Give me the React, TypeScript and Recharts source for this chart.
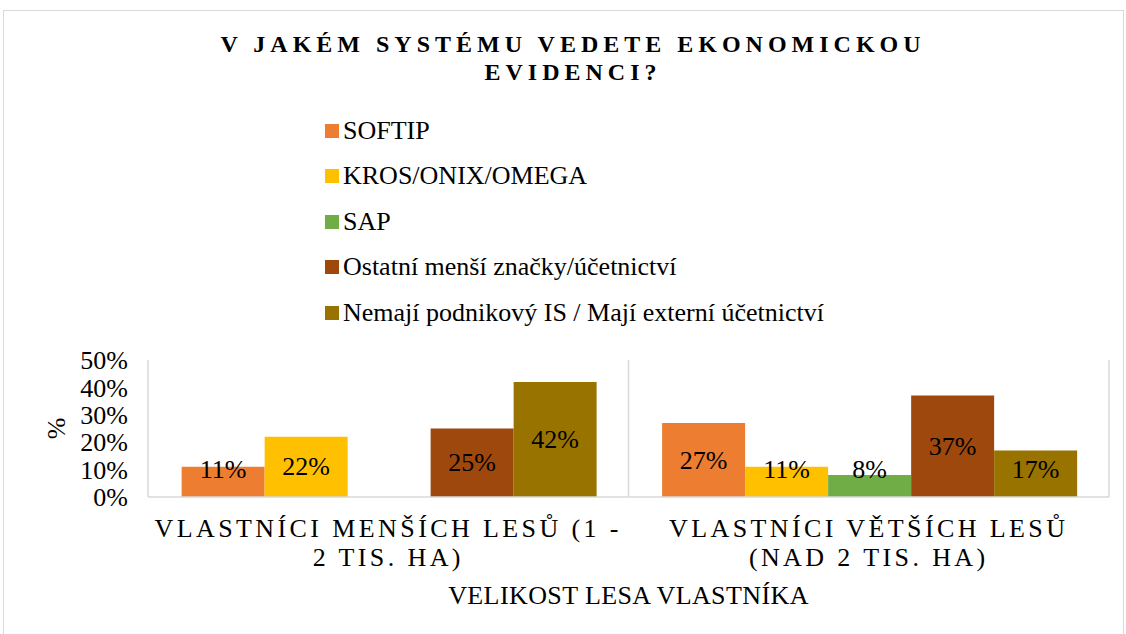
import { BarChart, Bar, XAxis, YAxis, CartesianGrid, Legend, LabelList, Label } from "recharts";

const categories = [
  "Vlastníci menších lesů (1 - 2 tis. ha)",
  "Vlastníci větších lesů (nad 2 tis. ha)",
];
const categoryLines = [
  ["VLASTNÍCI MENŠÍCH LESŮ (1 -", "2 TIS. HA)"],
  ["VLASTNÍCI VĚTŠÍCH LESŮ", "(NAD 2 TIS. HA)"],
];
const seriesNames = [
  "SOFTIP",
  "KROS/ONIX/OMEGA",
  "SAP",
  "Ostatní menší značky/účetnictví",
  "Nemají podnikový IS / Mají externí účetnictví",
];
const softip = [0.11, 0.27];
const kros = [0.22, 0.11];
const sap = [0, 0.08];
const ostatni = [0.25, 0.37];
const nemaji = [0.42, 0.17];
const yTicks = [0, 0.1, 0.2, 0.3, 0.4, 0.5];

const titleLines = ["V JAKÉM SYSTÉMU VEDETE EKONOMICKOU", "EVIDENCI?"];
const xTitle = "VELIKOST LESA VLASTNÍKA";
const yTitle = "%";

const seriesValues = [softip, kros, sap, ostatni, nemaji];
const colors = ["#ED7D31", "#FFC000", "#70AD47", "#9E480E", "#997300"];

const data = categories.map((c, i) => {
  const row: Record<string, string | number> = { category: c };
  seriesValues.forEach((vals, s) => {
    row[`s${s}`] = vals[i];
  });
  return row;
});

const FONT = "'Liberation Serif', 'Times New Roman', serif";

function pct(v: number) {
  return `${Math.round(v * 100)}%`;
}

function BarValueLabel(props: any) {
  const { x, y, width, height, value } = props;
  if (!value) return null;
  const base = y + height;
  const cy = Math.min(y + height / 2, base - 28);
  return (
    <text
      x={x + width / 2}
      y={cy}
      textAnchor="middle"
      dominantBaseline="central"
      fontFamily={FONT}
      fontSize={26}
      fill="#000"
    >
      {pct(value)}
    </text>
  );
}

function CategoryTick(props: any) {
  const { x, y, index } = props;
  const lines = categoryLines[index] ?? [];
  return (
    <g>
      {lines.map((line, i) => (
        <text
          key={i}
          x={x}
          y={y + 40 + i * 29}
          textAnchor="middle"
          fontFamily={FONT}
          fontSize={26}
          letterSpacing={3.4}
          fill="#000"
        >
          {line}
        </text>
      ))}
    </g>
  );
}

function LegendList() {
  return (
    <div style={{ fontFamily: FONT, fontSize: 26, color: "#000" }}>
      {seriesNames.map((name, s) => (
        <div
          key={name}
          style={{ display: "flex", alignItems: "center", height: 45.5, whiteSpace: "nowrap" }}
        >
          <span
            style={{
              display: "inline-block",
              width: 14,
              height: 14,
              background: colors[s],
              marginRight: 4,
            }}
          />
          {name}
        </div>
      ))}
    </div>
  );
}

export default function App() {
  return (
    <div
      style={{
        position: "absolute",
        left: 0,
        top: 0,
        width: 1126,
        height: 634,
        background: "#fff",
        overflow: "hidden",
      }}
    >
      <div
        style={{
          position: "absolute",
          left: 3,
          top: 10,
          width: 1119,
          height: 640,
          border: "1px solid #d9d9d9",
        }}
      />
      <div
        style={{
          position: "absolute",
          left: 0,
          top: 30,
          width: 1146,
          textAlign: "center",
          fontFamily: FONT,
          fontWeight: "bold",
          fontSize: 24,
          letterSpacing: 5,
          lineHeight: "28px",
          color: "#000",
        }}
      >
        {titleLines.map((l) => (
          <div key={l}>{l}</div>
        ))}
      </div>
      <BarChart
        width={1126}
        height={634}
        data={data}
        margin={{ top: 360, right: 17, left: 0, bottom: 0 }}
        barCategoryGap="7%"
        barGap={0}
        style={{ position: "absolute", left: 0, top: 0 }}
      >
        <CartesianGrid
          horizontal={false}
          stroke="#d9d9d9"
          strokeWidth={1.5}
          verticalCoordinatesGenerator={({ offset }: any) =>
            [...categories.map((_, i) => offset.left + (offset.width * i) / categories.length), offset.left + offset.width]
          }
        />
        <XAxis
          dataKey="category"
          height={137}
          interval={0}
          tickLine={false}
          tickSize={0}
          tickMargin={0}
          axisLine={{ stroke: "#d9d9d9", strokeWidth: 1.5 }}
          tick={<CategoryTick />}
        >
          <Label
            value={xTitle}
            position="insideBottom"
            offset={30}
            style={{ fontFamily: FONT, fontSize: 26, letterSpacing: 0.4, fill: "#000" }}
          />
        </XAxis>
        <YAxis
          width={148}
          domain={[0, 0.5]}
          ticks={yTicks}
          interval={0}
          tickFormatter={pct}
          axisLine={false}
          tickLine={false}
          tickSize={0}
          tickMargin={20}
          tick={{ fontFamily: FONT, fontSize: 26, fill: "#000" }}
        >
          <Label
            content={({ viewBox }: any) => (
              <text
                x={viewBox.x + 56}
                y={viewBox.y + viewBox.height / 2}
                transform={`rotate(-90 ${viewBox.x + 56} ${viewBox.y + viewBox.height / 2})`}
                textAnchor="middle"
                dominantBaseline="central"
                fontFamily={FONT}
                fontSize={26}
                fill="#000"
              >
                {yTitle}
              </text>
            )}
          />
        </YAxis>
        <Legend
          layout="vertical"
          align="center"
          verticalAlign="middle"
          content={<LegendList />}
          wrapperStyle={{ top: 108, left: 325, width: 600, height: 230 }}
        />
        {seriesNames.map((name, s) => (
          <Bar key={name} dataKey={`s${s}`} name={name} fill={colors[s]} isAnimationActive={false}>
            <LabelList dataKey={`s${s}`} content={<BarValueLabel />} />
          </Bar>
        ))}
      </BarChart>
    </div>
  );
}
